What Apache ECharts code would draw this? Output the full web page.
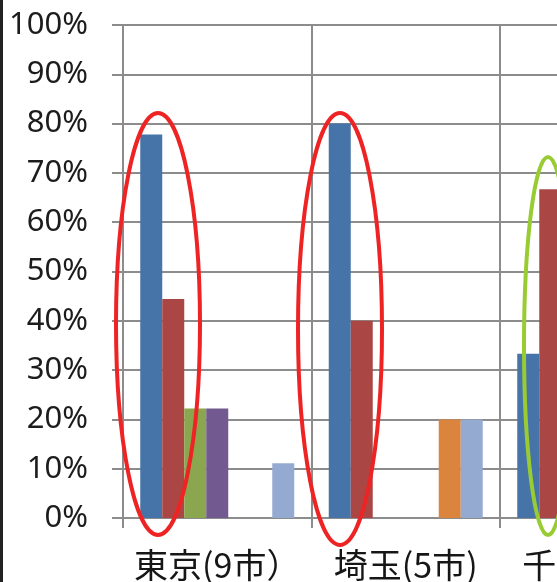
<!DOCTYPE html>
<html>
<head>
<meta charset="utf-8">
<style>
  html, body { margin: 0; padding: 0; background: #fff; overflow: hidden; }
  #frame { position: absolute; left: 0; top: 0; width: 3px; height: 582px; background: #222; z-index: 2; }
  #chart { position: absolute; left: 0; top: 0; width: 720px; height: 582px; }
</style>
<script src="https://cdn.jsdelivr.net/npm/echarts@6/dist/echarts.min.js"></script>
</head>
<body>
<div id="frame"></div>
<div id="chart"></div>
<script>
// Regions (number of cities surveyed in brackets)
const categories = ['東京(9市）', '埼玉(5市)', '千葉(3市)'];

// Share of cities per item, as fractions (0..1)
const series1 = [7 / 9, 4 / 5, 1 / 3];
const series2 = [4 / 9, 2 / 5, 2 / 3];
const series3 = [2 / 9, 0, null];
const series4 = [2 / 9, 0, null];
const series5 = [0, 0, null];
const series6 = [0, 1 / 5, null];
const series7 = [1 / 9, 1 / 5, null];

const seriesNames = ['項目1', '項目2', '項目3', '項目4', '項目5', '項目6', '項目7'];
const seriesColors = ['#4674A8', '#AA4744', '#8AA64F', '#72598F', '#4198AF', '#DB843D', '#94AAD0'];
const seriesData = [series1, series2, series3, series4, series5, series6, series7];

// Y-axis tick values (percent)
const yTicks = [0, 10, 20, 30, 40, 50, 60, 70, 80, 90, 100];

const chart = echarts.init(document.getElementById('chart'), null, { renderer: 'canvas' });

const gridLine = { color: '#8c8c8c', width: 2 };

const option = {
  animation: false,
  backgroundColor: '#fff',
  grid: { left: 123, top: 25, bottom: 64, width: 565.5, containLabel: false },
  xAxis: {
    type: 'category',
    data: categories,
    boundaryGap: true,
    axisLine: { lineStyle: gridLine },
    axisTick: { show: true, length: 10, lineStyle: gridLine },
    splitLine: { show: true, lineStyle: gridLine },
    axisLabel: {
      color: '#161616',
      fontSize: 34,
      fontFamily: '"Noto Sans CJK JP", "Noto Sans", sans-serif',
      margin: 30,
      interval: 0
    }
  },
  yAxis: {
    type: 'value',
    min: 0,
    max: 1,
    interval: 0.1,
    axisLine: { show: true, lineStyle: gridLine },
    axisTick: { show: true, length: 11, lineStyle: gridLine },
    splitLine: { show: true, lineStyle: gridLine },
    axisLabel: {
      color: '#1c1c1c',
      fontSize: 31,
      fontFamily: '"Noto Sans", sans-serif',
      margin: 35,
      formatter: v => {
        const p = Math.round(v * 100);
        return yTicks.includes(p) ? p + '%' : '';
      }
    }
  },
  series: seriesData.map((d, i) => ({
    name: seriesNames[i],
    type: 'bar',
    data: d,
    barGap: '0%',
    barCategoryGap: '18.3%',
    itemStyle: { color: seriesColors[i] },
    z: 3
  }))
};

chart.setOption(option);

// Highlight ellipses around the leading bars of each region
const ellipses = [
  { cx: 158, cy: 324, rx: 42, ry: 211, color: '#EE2424' },
  { cx: 340, cy: 329, rx: 42, ry: 216, color: '#EE2424' },
  { cx: 548, cy: 346, rx: 24, ry: 189, color: '#99CC33' }
];
chart.setOption({
  graphic: ellipses.map(e => ({
    type: 'ellipse',
    z: 100,
    shape: { cx: e.cx, cy: e.cy, rx: e.rx, ry: e.ry },
    style: { fill: 'none', stroke: e.color, lineWidth: 4 }
  }))
});
</script>
</body>
</html>
